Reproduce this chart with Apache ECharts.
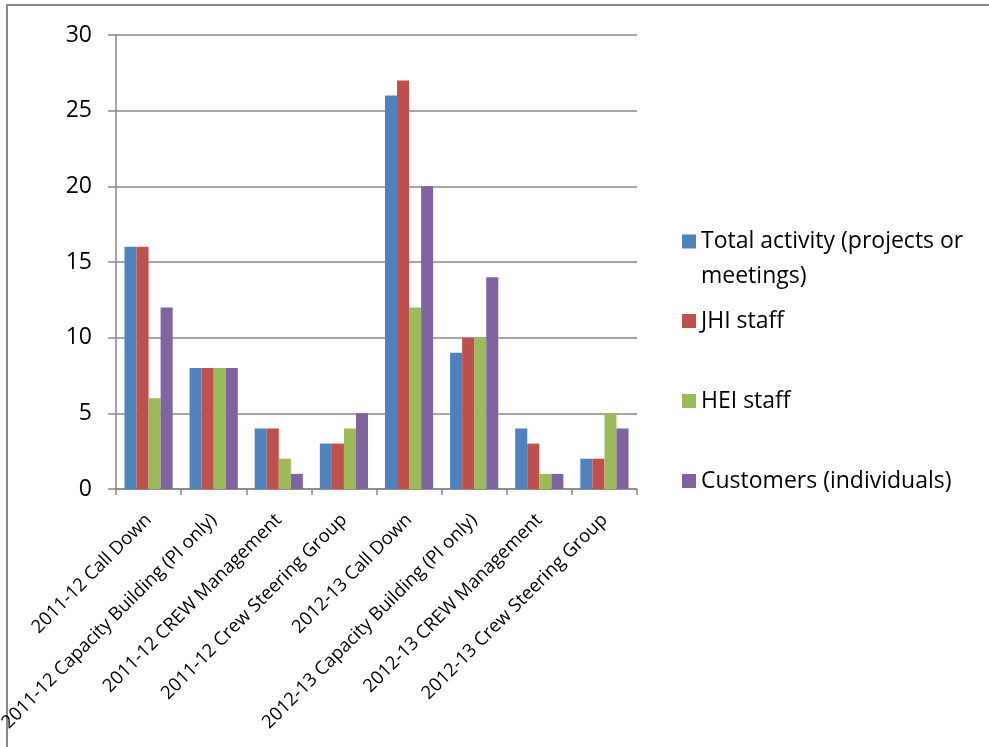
<!DOCTYPE html>
<html>
<head>
<meta charset="utf-8">
<script src="https://cdn.jsdelivr.net/npm/echarts@6/dist/echarts.min.js"></script>
<style>html,body{margin:0;padding:0;background:#fff}#c{width:989px;height:747px}</style>
</head>
<body>
<div id="c"></div>
<script>
const categories = ["2011-12 Call Down","2011-12 Capacity Building (PI only)","2011-12 CREW Management","2011-12 Crew Steering Group","2012-13 Call Down","2012-13 Capacity Building (PI only)","2012-13 CREW Management","2012-13 Crew Steering Group"];
const seriesNames = ["Total activity (projects or meetings)","JHI staff","HEI staff","Customers (individuals)"];
const totalActivity = [16, 8, 4, 3, 26, 9, 4, 2];
const jhiStaff = [16, 8, 4, 3, 27, 10, 3, 2];
const heiStaff = [6, 8, 2, 4, 12, 10, 1, 5];
const customers = [12, 8, 1, 5, 20, 14, 1, 4];
const yTicks = [0, 5, 10, 15, 20, 25, 30];

const colors = ['#4F81BD', '#C0504D', '#9BBB59', '#8064A2'];
const FONT = 'Open Sans';
const chart = echarts.init(document.getElementById('c'));
const values = [totalActivity, jhiStaff, heiStaff, customers];
const legendCenters = [241.5, 321, 401, 481];
const legendLabels = ["Total activity (projects or", "JHI staff", "HEI staff", "Customers (individuals)"];
const LEG_FS = 23;

chart.setOption({
  animation: false,
  color: colors,
  textStyle: { fontFamily: FONT },
  grid: { left: 116, right: 352, top: 35, bottom: 258, containLabel: false, outerBoundsMode: 'none' },
  legend: seriesNames.map((n, i) => ({
    data: [n], orient: 'vertical', left: 682, top: legendCenters[i] - 14, padding: 0,
    icon: 'rect', itemWidth: 14, itemHeight: 14, itemGap: 0,
    formatter: () => legendLabels[i],
    textStyle: { fontFamily: FONT, fontSize: LEG_FS, color: '#000', lineHeight: 28 },
    selectedMode: false
  })),
  xAxis: {
    type: 'category', data: categories,
    axisLine: { lineStyle: { color: '#888', width: 1.5 } },
    axisTick: { show: true, length: 6, alignWithLabel: false, lineStyle: { color: '#888', width: 1.5 } },
    axisLabel: { rotate: 45, interval: 0, fontSize: 18.5, color: '#000', margin: 28, fontFamily: FONT }
  },
  yAxis: {
    type: 'value', min: yTicks[0], max: yTicks[yTicks.length - 1], interval: 5,
    axisLine: { show: true, lineStyle: { color: '#888', width: 1.5 } },
    axisTick: { show: true, length: 8, lineStyle: { color: '#888', width: 1.5 } },
    splitLine: { lineStyle: { color: '#888', width: 1.5 } },
    axisLabel: { fontSize: 23, color: '#000', margin: 24, fontFamily: FONT }
  },
  series: seriesNames.map((n, i) => ({
    name: n, type: 'bar', data: values[i],
    barGap: '0%', barCategoryGap: '26%',
    itemStyle: { color: colors[i] }
  })),
  graphic: [
    { type: 'polyline', shape: { points: [[7, 747], [7, 5], [989, 5]] }, style: { stroke: '#888', lineWidth: 2, fill: null } },
    { type: 'text', x: 701, y: 241.5 + 35, style: { text: 'meetings)', fontFamily: FONT, fontSize: LEG_FS, fill: '#000', align: 'left', verticalAlign: 'middle' } }
  ]
});
</script>
</body>
</html>
